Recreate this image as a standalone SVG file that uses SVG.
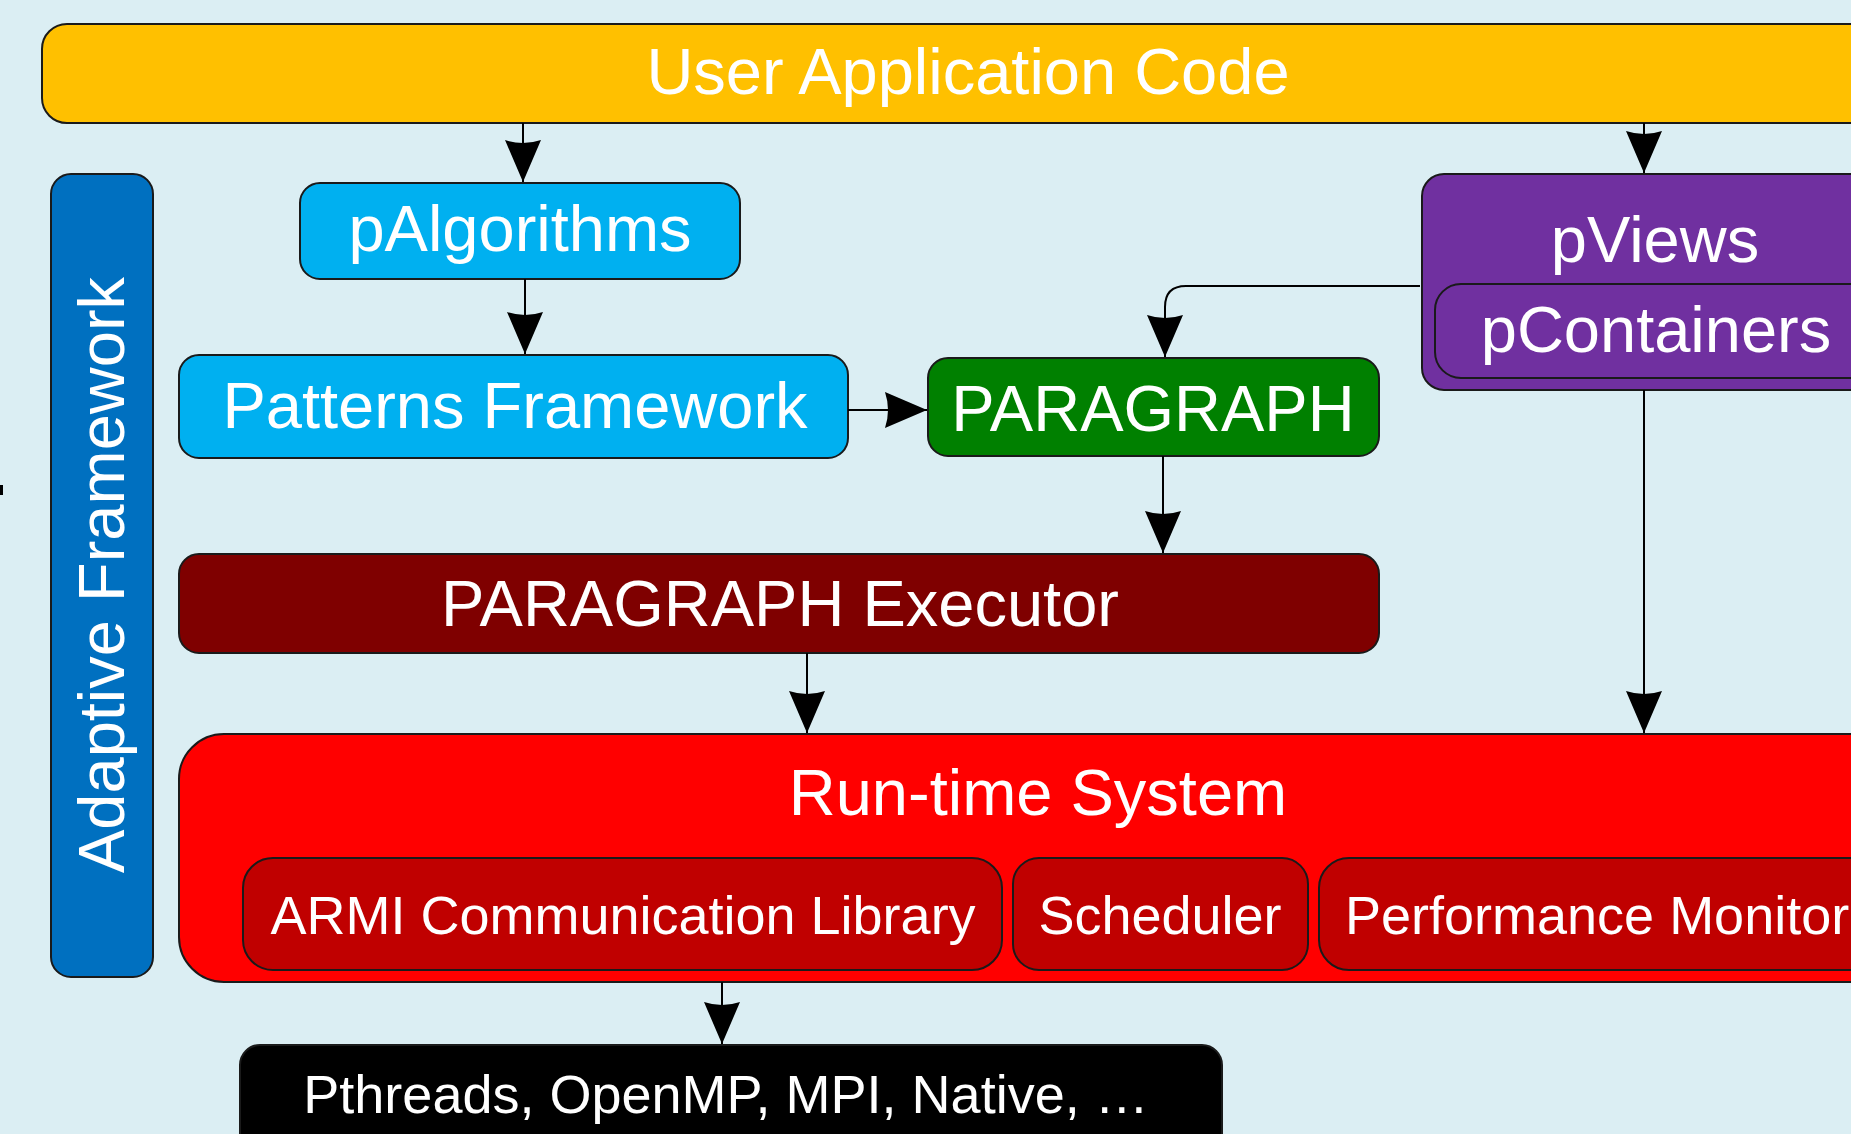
<svg xmlns="http://www.w3.org/2000/svg" width="1851" height="1134" viewBox="0 0 1851 1134">
<style>
.box{stroke:#1a1a1a;stroke-width:2}
.t{font-family:"Liberation Sans",Arial,sans-serif;fill:#fff;text-anchor:middle}
.big{font-size:65px}
.mid{font-size:54px}
.c{fill:none;stroke:#000;stroke-width:2;marker-end:url(#ah)}
</style>
<defs>
<marker id="ah" viewBox="0 0 42 36" refX="42" refY="18" markerWidth="42" markerHeight="36" markerUnits="userSpaceOnUse" orient="auto">
<path d="M0,0 L42,18 L0,36 Q6,18 0,0 Z" fill="#000"/>
</marker>
</defs>
<rect width="1851" height="1134" fill="#DBEEF3"/>
<rect x="0" y="485" width="3" height="10" fill="#000"/>

<g id="user-application-code">
<rect class="box" x="42" y="24" width="1860" height="99" rx="25" fill="#FFC000"/>
<text class="t big" x="968" y="94">User Application Code</text>
</g>

<g id="adaptive-framework">
<rect class="box" x="51" y="174" width="102" height="803" rx="20" fill="#0070C0"/>
<text class="t big" transform="translate(124,575) rotate(-90)" x="0" y="0">Adaptive Framework</text>
</g>

<g id="palgorithms">
<rect class="box" x="300" y="183" width="440" height="96" rx="20" fill="#00B0F0"/>
<text class="t big" x="520" y="251">pAlgorithms</text>
</g>

<g id="patterns-framework">
<rect class="box" x="179" y="355" width="669" height="103" rx="20" fill="#00B0F0"/>
<text class="t big" x="515" y="428">Patterns Framework</text>
</g>

<g id="paragraph">
<rect class="box" x="928" y="358" width="451" height="98" rx="20" fill="#008000"/>
<text class="t big" x="1153" y="431">PARAGRAPH</text>
</g>

<g id="pviews">
<rect class="box" x="1422" y="174" width="470" height="216" rx="22" fill="#7030A0"/>
<text class="t big" x="1655" y="262">pViews</text>
<g id="pcontainers">
<rect class="box" x="1435" y="284" width="445" height="94" rx="26" fill="#7030A0"/>
<text class="t big" x="1656" y="352">pContainers</text>
</g>
</g>

<g id="paragraph-executor">
<rect class="box" x="179" y="554" width="1200" height="99" rx="20" fill="#7F0000"/>
<text class="t big" x="780" y="626">PARAGRAPH Executor</text>
</g>

<g id="run-time-system">
<rect class="box" x="179" y="734" width="1720" height="248" rx="45" fill="#FF0000"/>
<text class="t big" x="1038" y="815">Run-time System</text>
<g id="armi">
<rect class="box" x="243" y="858" width="759" height="112" rx="30" fill="#C00000"/>
<text class="t mid" x="623" y="934">ARMI Communication Library</text>
</g>
<g id="scheduler">
<rect class="box" x="1013" y="858" width="295" height="112" rx="26" fill="#C00000"/>
<text class="t mid" x="1160" y="934">Scheduler</text>
</g>
<g id="performance-monitor">
<rect class="box" x="1319" y="858" width="560" height="112" rx="30" fill="#C00000"/>
<text class="t mid" x="1345" y="934" style="text-anchor:start">Performance Monitor</text>
</g>
</g>

<g id="native">
<rect class="box" x="240" y="1045" width="982" height="120" rx="20" fill="#000"/>
<text class="t mid" x="726" y="1113">Pthreads, OpenMP, MPI, Native, …</text>
</g>

<g id="connectors">
<path class="c" d="M523,123 L523,182"/>
<path class="c" d="M525,279 L525,354"/>
<path class="c" d="M848,410 L927,410"/>
<path class="c" d="M1644,123 L1644,173"/>
<path class="c" d="M1420,286 L1186,286 Q1165,286 1165,307 L1165,357"/>
<path class="c" d="M1163,456 L1163,553"/>
<path class="c" d="M807,653 L807,733"/>
<path class="c" d="M1644,390 L1644,733"/>
<path class="c" d="M722,982 L722,1044"/>
</g>
</svg>
